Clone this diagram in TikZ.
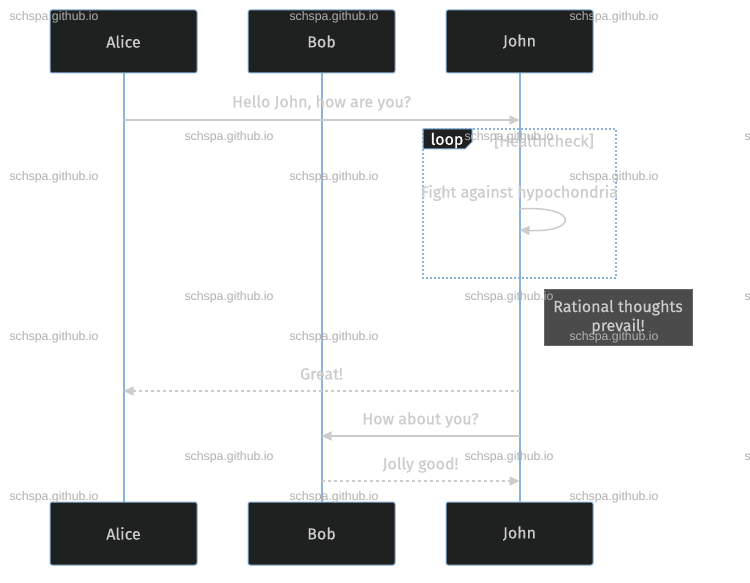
\documentclass[tikz,border=0pt]{standalone}
\usepackage{fontspec}
\setmainfont{Fira Sans}[BoldFont=Fira Sans, BoldFeatures={FakeBold=0.6}]
\newfontfamily\markfont{Liberation Sans}
\usetikzlibrary{arrows.meta, positioning}
\definecolor{boxfill}{HTML}{1F2020}
\definecolor{lifeblue}{HTML}{89B4DE}
\definecolor{msggray}{HTML}{CCCCCC}
\definecolor{notefill}{HTML}{4B4B4B}
\definecolor{noteline}{HTML}{666666}
\definecolor{markgray}{HTML}{B0B0B0}
\tikzset{
	actor/.style={draw=lifeblue, fill=boxfill, rounded corners=2pt, line width=1pt,
		minimum width=147pt, minimum height=63pt, text=msggray,
		font=\bfseries\fontsize{16}{18}\selectfont},
	lifeline/.style={lifeblue, line width=2pt},
	msg/.style={msggray, line width=1.5pt, -{Triangle[length=10pt,width=9pt]}},
	reply/.style={msg, dash pattern=on 3pt off 3pt},
	msglabel/.style={text=msggray, font=\bfseries\fontsize{16}{18}\selectfont, inner sep=0pt},
	wmark/.style={text=markgray, font=\markfont\fontsize{12.3}{14}\selectfont, inner sep=0pt}
}
\begin{document}
\begin{tikzpicture}[x=1pt,y=-1pt]
				\clip (0,0) rectangle (750,583);
				\fill[white] (0,0) rectangle (750,583);
				\node[actor] (aliceTop) at (123.5,41.5) {Alice};
				\node[actor] (bobTop) at (321.5,41.5) {Bob};
				\node[actor] (johnTop) at (519.5,41.5) {John};
				\node[actor] (aliceBot) at (123.5,533.5) {Alice};
				\node[actor] (bobBot) at (321.5,533.5) {Bob};
				\node[actor] (johnBot) at (519.5,533.5) {John};
				\draw[lifeline] (aliceTop) -- (aliceBot);
				\draw[lifeline] (bobTop) -- (bobBot);
				\draw[lifeline] (johnTop) -- (johnBot);
				\coordinate (helloA) at (123.5,120);
				\coordinate (helloJ) at (519.5,120);
				\draw[msg] (helloA) -- (helloJ);
				\node[msglabel] (helloText) at (321.5,103) {Hello John, how are you?};
				\draw[lifeblue, line width=2pt, dash pattern=on 2pt off 2pt] (423,129) rectangle (616,278);
				\filldraw[boxfill, draw=lifeblue, line width=1pt] (423,129) -- (472,129) -- (472,142) -- (465,149) -- (423,149) -- cycle;
				\node[text=white, font=\bfseries\fontsize{16}{18}\selectfont, inner sep=0pt] (loopTag) at (447,140.5) {loop};
				\node[msglabel] (loopCond) at (544,141) {[Healthcheck]};
				\node[msglabel] (fightText) at (519.5,193) {Fight against hypochondria};
				\coordinate (selfOut) at (519.5,209);
				\coordinate (selfIn) at (519.5,230);
				\draw[msg] (selfOut) .. controls (579,205) and (579,233) .. (selfIn);
				\node[draw=noteline, fill=notefill, line width=1pt, minimum width=148pt, minimum height=56pt,
					align=center, text=msggray, font=\bfseries\fontsize{16}{19}\selectfont] (note) at (618,317) {Rational thoughts\\prevail!};
				\coordinate (greatJ) at (519.5,391);
				\coordinate (greatA) at (123.5,391);
				\draw[reply] (greatJ) -- (greatA);
				\node[msglabel] (greatText) at (321.5,374) {Great!};
				\coordinate (howJ) at (519.5,436);
				\coordinate (howB) at (321.5,436);
				\draw[msg] (howJ) -- (howB);
				\node[msglabel] (howText) at (420.5,420) {How about you?};
				\coordinate (jollyB) at (321.5,481);
				\coordinate (jollyJ) at (519.5,481);
				\draw[reply] (jollyB) -- (jollyJ);
				\node[msglabel] (jollyText) at (420.5,465) {Jolly good!};
				\foreach \x in {54,334,614}
					\foreach \y in {17,177,337,497}
						\node[wmark] (wm-\x-\y) at (\x,\y) {schspa.github.io};
				\foreach \x in {229,509,789}
					\foreach \y in {137,297,457}
						\node[wmark] (wm-\x-\y) at (\x,\y) {schspa.github.io};
			\end{tikzpicture}
\end{document}
